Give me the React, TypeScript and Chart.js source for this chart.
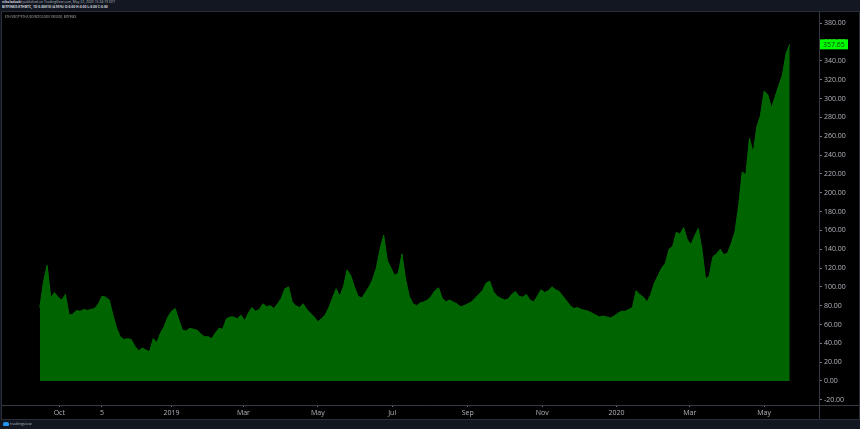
import React, { useEffect, useRef } from "react";
import { Chart, registerables } from "chart.js";

Chart.register(...registerables);

// ---- data ----
const START_DATE = "2018-09-15";
const STEP_DAYS = 3;
const values: number[] = [
  78, 105, 123, 88, 94, 89, 86, 92, 70, 71,
  75, 74, 76, 75, 76, 77, 82, 90, 89, 86,
  70, 56, 47, 44, 45, 44, 37, 32, 35, 33,
  31, 45, 41, 51, 58, 68, 74, 77, 65, 54,
  53, 56, 55, 54, 50, 47, 47, 45, 51, 56,
  55, 66, 68, 68, 66, 70, 64, 72, 78, 74,
  76, 82, 79, 80, 77, 82, 88, 98, 100, 84,
  80, 78, 82, 76, 72, 68, 63, 66, 70, 78,
  88, 98, 90, 100, 118, 112, 100, 90, 88, 94,
  100, 108, 120, 140, 155, 128, 120, 112, 115, 135,
  108, 90, 82, 80, 83, 84, 86, 90, 96, 99,
  88, 84, 86, 84, 82, 79, 80, 82, 84, 88,
  92, 96, 104, 106, 95, 90, 88, 86, 87, 92,
  95, 90, 89, 92, 86, 84, 90, 97, 94, 96,
  100, 97, 95, 90, 85, 80, 77, 78, 76, 75,
  74, 72, 70, 68, 69, 68, 67, 69, 72, 74,
  74, 76, 78, 96, 92, 89, 84, 92, 104, 112,
  120, 125, 140, 143, 158, 156, 163, 150, 145, 154,
  162, 140, 108, 112, 132, 135, 140, 134, 136, 146,
  158, 185, 222, 219, 258, 242, 270, 282, 308, 304,
  290, 302, 314, 325, 348, 357.65,
];
const tickDates = [
  "2018-10-01", "2018-11-05", "2019-01-01", "2019-03-01", "2019-05-01", "2019-07-01",
  "2019-09-01", "2019-11-01", "2020-01-01", "2020-03-01", "2020-05-01",
];
const tickLabels = ["Oct", "5", "2019", "Mar", "May", "Jul", "Sep", "Nov", "2020", "Mar", "May"];
const yTickValues = [-20, 0, 20, 40, 60, 80, 100, 120, 140, 160, 180, 200, 220, 240, 260, 280, 300, 320, 340, 360, 380];
const lastValueLabel = "357.65";

const headerLine1Name = "nikoladoski";
const headerLine1Rest = " published on TradingView.com, May 22, 2020 15:34:19 EDT";
const headerLine2 = "BITFINEX:ETHBTC, 1D 0.00010 (4.95%) O:0.00 H:0.00 L:0.00 C:0.00";
const symbolLine = "ETH/USDT*ETH/USD/(BTC/USD)/1000000, BITFINEX";

const DAY_MS = 86400000;
const dayOffset = (d: string) => Math.round((Date.parse(d) - Date.parse(START_DATE)) / DAY_MS);

const FONT = "'Open Sans', 'Liberation Sans', sans-serif";

export default function App() {
  const ref = useRef<HTMLCanvasElement | null>(null);

  useEffect(() => {
    if (!ref.current) return;
    const points = values.map((v, i) => ({ x: i * STEP_DAYS, y: v }));
    const tickDays = tickDates.map(dayOffset);

    const framePlugin = {
      id: "frame",
      afterDraw(chart: any) {
        const ctx = chart.ctx;
        const ca = chart.chartArea;
        ctx.save();
        ctx.strokeStyle = "#363a45";
        ctx.lineWidth = 1;
        ctx.beginPath();
        ctx.moveTo(0, Math.round(ca.bottom) + 0.5);
        ctx.lineTo(chart.width, Math.round(ca.bottom) + 0.5);
        ctx.moveTo(Math.round(ca.right) + 0.5, 0);
        ctx.lineTo(Math.round(ca.right) + 0.5, chart.height);
        ctx.stroke();
        // last value label
        const ys = chart.scales.y;
        const last = values[values.length - 1];
        const y = ys.getPixelForValue(last);
        ctx.fillStyle = "#00ff00";
        ctx.fillRect(ca.right + 1, y - 5, 28, 10);
        ctx.fillStyle = "#0b3d0b";
        ctx.font = `7px ${FONT}`;
        ctx.textBaseline = "middle";
        ctx.textAlign = "left";
        ctx.fillText(lastValueLabel, ca.right + 4, y + 0.5);
        ctx.restore();
      },
    };

    const chart = new Chart(ref.current, {
      type: "line",
      data: {
        datasets: [
          {
            data: points,
            fill: "origin",
            backgroundColor: "#006400",
            borderColor: "#006a00",
            borderWidth: 1,
            pointRadius: 0,
            tension: 0,
          },
        ],
      },
      options: {
        animation: false,
        responsive: false,
        maintainAspectRatio: false,
        devicePixelRatio: 1,
        layout: { padding: 0 },
        plugins: { legend: { display: false }, tooltip: { enabled: false } },
        scales: {
          x: {
            type: "linear",
            position: "bottom",
            min: -31,
            max: 639,
            grid: { display: true, drawOnChartArea: false, drawTicks: true, tickLength: 2, color: "#787b86" },
            border: { display: false },
            ticks: {
              color: "#b2b5be",
              font: { size: 7, family: FONT },
              padding: 2,
              autoSkip: false,
              maxRotation: 0,
              callback: (_v: any, i: number) => tickLabels[i],
            },
            afterBuildTicks: (scale: any) => {
              scale.ticks = tickDays.map((v) => ({ value: v }));
            },
            afterFit: (scale: any) => {
              scale.height = 14;
              scale.paddingLeft = 0;
              scale.paddingRight = 0;
            },
          },
          y: {
            type: "linear",
            position: "right",
            min: -25.5,
            max: 392,
            grid: { display: true, drawOnChartArea: false, drawTicks: true, tickLength: 3, color: "#787b86" },
            border: { display: false },
            ticks: {
              color: "#b2b5be",
              font: { size: 7, family: FONT },
              padding: 2,
              callback: (v: any) => Number(v).toFixed(2),
            },
            afterBuildTicks: (scale: any) => {
              scale.ticks = yTickValues.map((v) => ({ value: v }));
            },
            afterFit: (scale: any) => {
              scale.width = 40;
              scale.paddingTop = 0;
              scale.paddingBottom = 0;
            },
          },
        },
      },
      plugins: [framePlugin],
    } as any);
    return () => chart.destroy();
  }, []);

  return (
    <div style={{ position: "fixed", left: 0, top: 0, width: 860, height: 429, background: "#131722", overflow: "hidden", fontFamily: FONT }}>
      <div style={{ position: "absolute", left: 2, top: 0, fontSize: 3.4, lineHeight: "4px", color: "#b2b5be", whiteSpace: "nowrap" }}>
        <span style={{ color: "#d1d4dc", fontWeight: 700 }}>{headerLine1Name}</span>
        {headerLine1Rest}
      </div>
      <div style={{ position: "absolute", left: 2, top: 5, fontSize: 3.4, lineHeight: "4px", color: "#d1d4dc", whiteSpace: "nowrap", fontWeight: 700 }}>
        {headerLine2}
      </div>
      <div style={{ position: "absolute", left: 1, top: 11, width: 857, height: 407, border: "1px solid #2a2e39", background: "#000" }}>
        <canvas ref={ref} width={857} height={407} style={{ display: "block" }} />
        <div style={{ position: "absolute", left: 3, top: 3, fontSize: 3, lineHeight: "4px", color: "#b2b5be", whiteSpace: "nowrap" }}>
          {symbolLine}
        </div>
      </div>
      <div style={{ position: "absolute", left: 3, top: 422, display: "flex", alignItems: "center", gap: 1 }}>
        <span style={{ display: "inline-block", width: 6, height: 4, background: "#2196f3", borderRadius: "2px 2px 1px 1px" }} />
        <span style={{ fontSize: 4, lineHeight: "4px", color: "#b2b5be" }}>tradingview</span>
      </div>
    </div>
  );
}
